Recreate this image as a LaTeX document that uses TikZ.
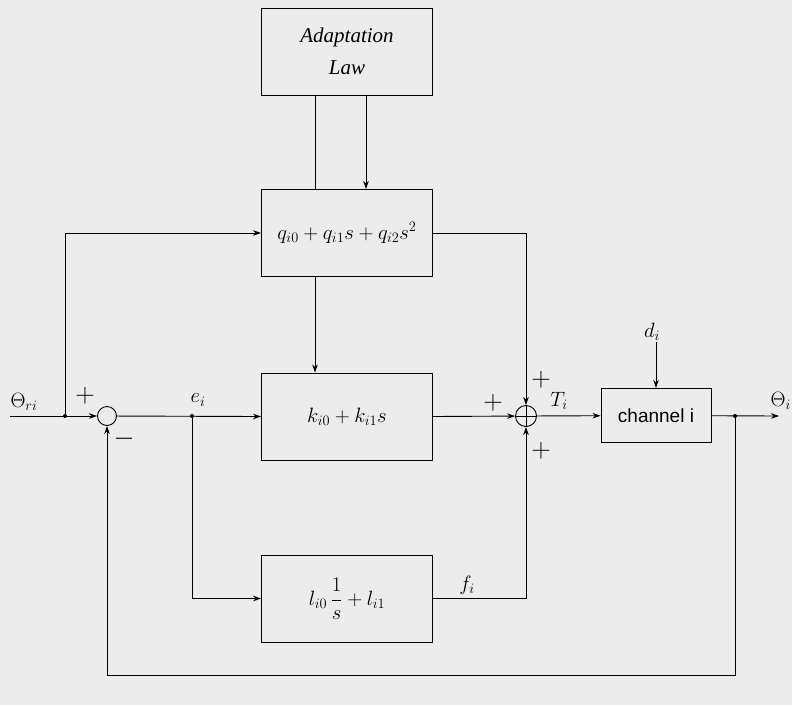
\documentclass[tikz,border=0pt]{standalone}
\usepackage{fontspec}
\setmainfont{Liberation Serif}
\newfontfamily\arialfont{Liberation Sans}
\usetikzlibrary{arrows.meta}
\definecolor{bgc}{RGB}{236,236,236}
\begin{document}
\begin{tikzpicture}[x=1pt,y=-1pt,
  blk/.style={draw, line width=0.9pt, minimum width=171pt, minimum height=87pt, inner sep=0pt, align=center},
  ln/.style={line width=0.9pt},
  arr/.style={line width=0.9pt, -{Stealth[length=8pt,width=5.5pt]}},
  dot/.style={circle, fill, inner sep=0pt, minimum size=4pt},
  lbl/.style={inner sep=0pt, font=\fontsize{20.74}{24}\selectfont},
  sgn/.style={inner sep=0pt, font=\fontsize{20.74}{24}\selectfont}]
\fill[bgc] (0,0) rectangle (792,705);
\useasboundingbox (0,0) rectangle (792,705);

% blocks
\node[blk, font=\itshape\fontsize{21}{32}\selectfont] (adapt) at (347,51.5) {Adaptation\\Law};
\node[blk] (qbox) at (347,233) {\fontsize{20.74}{24}\selectfont $q_{i0}+q_{i1}s+q_{i2}s^{2}$};
\node[blk] (kbox) at (347,416.5) {\fontsize{20.74}{24}\selectfont $k_{i0}+k_{i1}s$};
\node[blk] (lbox) at (347,598.5) {\fontsize{20.74}{24}\selectfont $\displaystyle l_{i0}\,\frac{1}{s}+l_{i1}$};
\node[draw, line width=0.9pt, minimum width=110pt, minimum height=54pt, inner sep=0pt,
      font=\arialfont\fontsize{19}{21}\selectfont] (chan) at (656,415.5) {channel i};

% summing junctions
\node[circle, draw, line width=0.9pt, minimum size=19pt, inner sep=0pt] (s1) at (107,416) {};
\node[circle, draw, line width=0.9pt, minimum size=21pt, inner sep=0pt] (s2) at (526,416) {};
\draw[ln] (s2.north) -- (s2.south) (s2.west) -- (s2.east);

% branch points and free ends
\coordinate (in) at (10,416);
\node[dot] (j1) at (65,416) {};
\node[dot] (je) at (192,416) {};
\node[dot] (jo) at (735,416) {};
\coordinate (out) at (779,416);
\coordinate (fbr) at (735,675);
\coordinate (fbl) at (107,675);
\coordinate (dtop) at (656,342);

% connectors
\draw[ln] ([xshift=-32pt]adapt.south) -- ([xshift=-32pt]qbox.north);
\draw[arr] ([xshift=19pt]adapt.south) -- ([xshift=19pt]qbox.north);
\draw[arr] ([xshift=-32pt]qbox.south) -- ([xshift=-32pt]kbox.north);
\draw[arr] (in) -- (s1);
\draw[arr] (j1) |- (qbox.west);
\draw[arr] (s1) -- (kbox.west);
\draw[arr] (je) |- (lbox.west);
\draw[arr] (kbox.east) -- (s2);
\draw[arr] (qbox.east) -| (s2.north);
\draw[arr] (lbox.east) -| (s2.south);
\draw[arr] (s2) -- (chan);
\draw[arr] (chan) -- (out);
\draw[arr] (jo) -- (fbr) -- (fbl) -- (s1.south);
\draw[arr] (dtop) -- (chan.north);

% labels
\node[lbl] (d) at (652,332) {$d_i$};
\node[lbl] (thr) at (24,402) {$\Theta_{ri}$};
\node[lbl, anchor=east] (tho) at (791,401) {$\Theta_{i}$};
\node[lbl] (e) at (198,400) {$e_i$};
\node[lbl] (T) at (559,401) {$T_i$};
\node[lbl] (f) at (467,585) {$f_i$};
\node[sgn] (p1) at (85,396) {\scalebox{1.3}{$+$}};
\node[sgn] (m1) at (124,439) {\scalebox{1.3}{$-$}};
\node[sgn] (p2) at (493,403) {\scalebox{1.3}{$+$}};
\node[sgn] (p3) at (541,380) {\scalebox{1.3}{$+$}};
\node[sgn] (p4) at (541,451) {\scalebox{1.3}{$+$}};
\end{tikzpicture}
\end{document}
